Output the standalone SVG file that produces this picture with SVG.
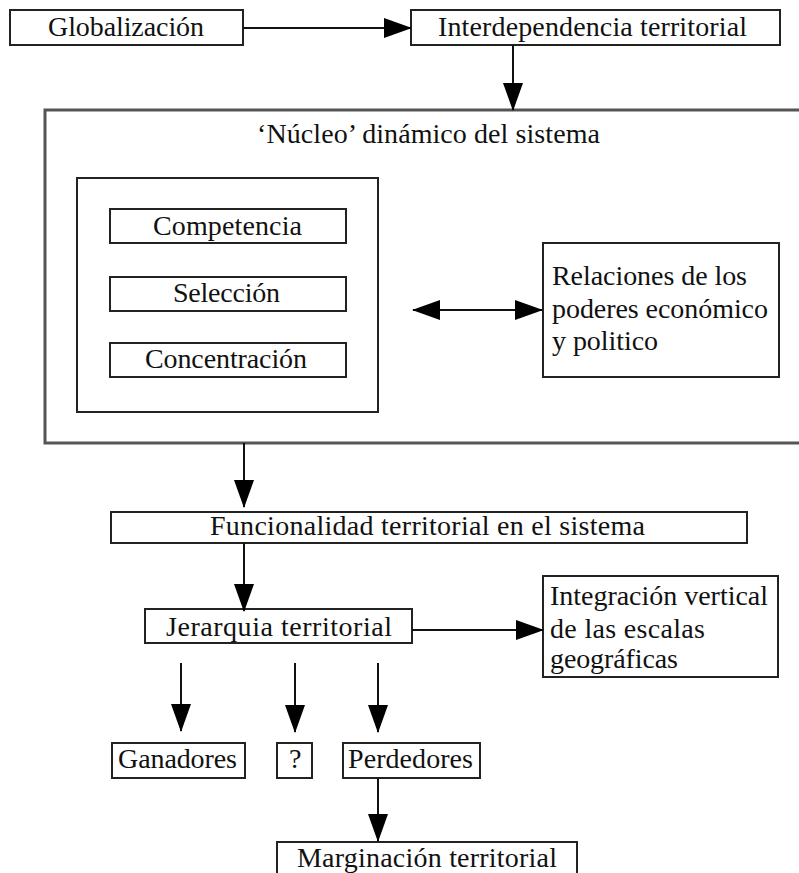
<svg xmlns="http://www.w3.org/2000/svg" width="799" height="873" viewBox="0 0 799 873">
<defs>
<style>
.box{fill:#fff;stroke:#222;stroke-width:2}
.big{fill:#fff;stroke:#555;stroke-width:3}
.t{font-family:"Liberation Serif","Times New Roman",serif;font-size:28px;fill:#111}
.c{stroke:#111;stroke-width:2;fill:none}
</style>
<marker id="ah" markerUnits="userSpaceOnUse" markerWidth="28" markerHeight="20" refX="27" refY="10" orient="auto-start-reverse">
<path d="M0,0 L28,10 L0,20 Z" fill="#000"/>
</marker>
</defs>
<rect width="799" height="873" fill="#fff"/>

<g id="nucleo">
<rect class="big" x="45" y="110" width="770" height="333"/>
<text class="t" x="257" y="143" textLength="343" lengthAdjust="spacing">‘Núcleo’ dinámico del sistema</text>
</g>
<g id="inner">
<rect class="box" x="77" y="178" width="301" height="234"/>
</g>
<g id="globalizacion">
<rect class="box" x="10" y="10" width="233" height="35"/>
<text class="t" x="48" y="36" textLength="156" lengthAdjust="spacing">Globalización</text>
</g>
<g id="interdependencia">
<rect class="box" x="411" y="10" width="369" height="35"/>
<text class="t" x="438" y="36" textLength="309" lengthAdjust="spacing">Interdependencia territorial</text>
</g>
<g id="competencia">
<rect class="box" x="110" y="209" width="236" height="34"/>
<text class="t" x="153" y="235" textLength="149" lengthAdjust="spacing">Competencia</text>
</g>
<g id="seleccion">
<rect class="box" x="110" y="277" width="236" height="34"/>
<text class="t" x="173" y="302" textLength="107" lengthAdjust="spacing">Selección</text>
</g>
<g id="concentracion">
<rect class="box" x="110" y="343" width="236" height="34"/>
<text class="t" x="145" y="368" textLength="162" lengthAdjust="spacing">Concentración</text>
</g>
<g id="relaciones">
<rect class="box" x="543" y="243" width="236" height="134"/>
<text class="t" x="552" y="285" textLength="195" lengthAdjust="spacing">Relaciones de los</text>
<text class="t" x="552" y="318" textLength="216" lengthAdjust="spacing">poderes económico</text>
<text class="t" x="552" y="350" textLength="106" lengthAdjust="spacing">y politico</text>
</g>
<g id="funcionalidad">
<rect class="box" x="111" y="512" width="636" height="31"/>
<text class="t" x="210" y="535" textLength="435" lengthAdjust="spacing">Funcionalidad territorial en el sistema</text>
</g>
<g id="jerarquia">
<rect class="box" x="145" y="609" width="267" height="34"/>
<text class="t" x="166" y="636" textLength="226" lengthAdjust="spacing">Jerarquia territorial</text>
</g>
<g id="integracion">
<rect class="box" x="543" y="576" width="235" height="101"/>
<text class="t" x="550" y="605" textLength="218" lengthAdjust="spacing">Integración vertical</text>
<text class="t" x="550" y="638" textLength="155" lengthAdjust="spacing">de las escalas</text>
<text class="t" x="550" y="668" textLength="128" lengthAdjust="spacing">geográficas</text>
</g>
<g id="ganadores">
<rect class="box" x="112" y="743" width="133" height="35"/>
<text class="t" x="118" y="768" textLength="119" lengthAdjust="spacing">Ganadores</text>
</g>
<g id="interrogante">
<rect class="box" x="277" y="743" width="35" height="35"/>
<text class="t" x="289" y="768">?</text>
</g>
<g id="perdedores">
<rect class="box" x="343" y="743" width="137" height="35"/>
<text class="t" x="348" y="768" textLength="125" lengthAdjust="spacing">Perdedores</text>
</g>
<g id="marginacion">
<rect class="box" x="277" y="842" width="300" height="40"/>
<text class="t" x="297" y="867" textLength="260" lengthAdjust="spacing">Marginación territorial</text>
</g>

<g id="connectors">
<line class="c" x1="243" y1="28" x2="411" y2="28" marker-end="url(#ah)"/>
<line class="c" x1="513" y1="45" x2="513" y2="110" marker-end="url(#ah)"/>
<line class="c" x1="413" y1="310" x2="542" y2="310" marker-start="url(#ah)" marker-end="url(#ah)"/>
<line class="c" x1="244" y1="443" x2="244" y2="507" marker-end="url(#ah)"/>
<line class="c" x1="244" y1="543" x2="244" y2="611" marker-end="url(#ah)"/>
<line class="c" x1="412" y1="630" x2="543" y2="630" marker-end="url(#ah)"/>
<line class="c" x1="181" y1="663" x2="181" y2="731" marker-end="url(#ah)"/>
<line class="c" x1="295" y1="663" x2="295" y2="732" marker-end="url(#ah)"/>
<line class="c" x1="378" y1="663" x2="378" y2="732" marker-end="url(#ah)"/>
<line class="c" x1="378" y1="778" x2="378" y2="841" marker-end="url(#ah)"/>
</g>
</svg>
